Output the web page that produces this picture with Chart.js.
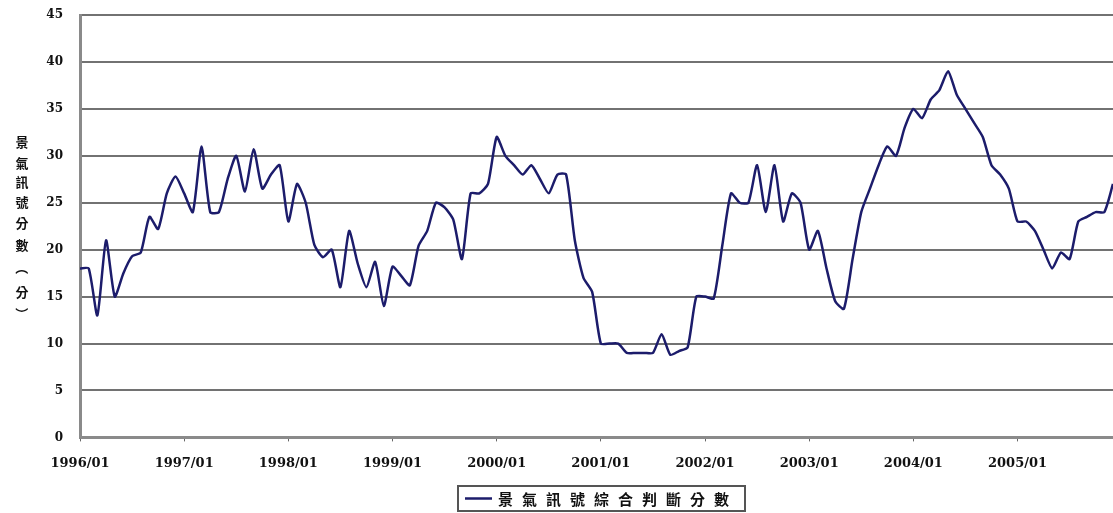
<!DOCTYPE html>
<html>
<head>
<meta charset="utf-8">
<script src="https://cdn.jsdelivr.net/npm/chart.js@4/dist/chart.umd.min.js"></script>
<style>
  html, body { margin: 0; padding: 0; background: #fff; }
  #wrap { width: 1113px; height: 513px; position: relative; }
</style>
</head>
<body>
<div id="wrap"><canvas id="chart"></canvas></div>
<script>
// data, monthly 1996/01 .. 2005/12
const years = [1996, 1997, 1998, 1999, 2000, 2001, 2002, 2003, 2004, 2005];
const monthNames = ['01', '02', '03', '04', '05', '06', '07', '08', '09', '10', '11', '12'];
const seriesName = '景氣訊號綜合判斷分數';
const yTitle = ['景', '氣', '訊', '號', '分', '數', '（', '分', '）'];
const yTicks = [0, 5, 10, 15, 20, 25, 30, 35, 40, 45];

const scores = [
  18, 18, 13, 21, 15, 17.5, 19.3, 19.7, 23.5, 22.2, 26, 27.8,   // 1996
  26, 24, 31, 24, 24, 27.5, 30, 26.2, 30.7, 26.5, 28, 29,        // 1997
  23, 27, 25, 20.5, 19.2, 20, 16, 22, 18.5, 16, 18.7, 14,        // 1998
  18.2, 17.2, 16.2, 20.4, 22, 25, 24.5, 23.2, 19, 26, 26, 27,    // 1999
  32, 30, 29, 28, 29, 27.5, 26, 28, 28, 21, 17, 15.5,            // 2000
  10, 10, 10, 9, 9, 9, 9, 11, 8.8, 9.2, 9.6, 15,                 // 2001
  15, 14.8, 20.5, 26, 25, 25, 29, 24, 29, 23, 26, 25,            // 2002
  20, 22, 18, 14.5, 13.7, 19, 24, 26.5, 29, 31, 30, 33,          // 2003
  35, 34, 36, 37, 39, 36.5, 35, 33.5, 32, 29, 28, 26.5,          // 2004
  23, 23, 22, 20, 18, 19.7, 19, 23, 23.5, 24, 24, 27             // 2005
];

const labels = [];
years.forEach(y => monthNames.forEach(m => labels.push(y + '/' + m)));

const gridColor = '#727272';
const axisColor = '#8a8a8a';
const lineColor = '#1c1c6b';

// upright stacked y title, bordered legend at the bottom
const decorations = {
  id: 'decorations',
  afterDraw(chart) {
    const ctx = chart.ctx;
    ctx.save();
    ctx.fillStyle = '#111';
    ctx.font = 'bold 13px "Noto Sans CJK TC"';
    ctx.textAlign = 'center';
    ctx.textBaseline = 'middle';
    const ys = [142, 163, 182, 202, 223, 245, 268, 292, 314];
    yTitle.forEach((c, i) => {
      if (c === '（' || c === '）') {
        // brackets turned for vertical writing
        ctx.save();
        ctx.translate(22, ys[i]);
        ctx.rotate(Math.PI / 2);
        ctx.fillText(c, 0, 0);
        ctx.restore();
      } else {
        ctx.fillText(c, 22, ys[i]);
      }
    });

    // legend box
    ctx.strokeStyle = '#555';
    ctx.lineWidth = 2;
    ctx.strokeRect(458, 486, 287, 25);
    ctx.strokeStyle = lineColor;
    ctx.lineWidth = 2.5;
    ctx.beginPath();
    ctx.moveTo(465, 498.5);
    ctx.lineTo(492, 498.5);
    ctx.stroke();
    ctx.fillStyle = '#111';
    ctx.font = 'bold 15px "Noto Sans CJK TC"';
    ctx.textAlign = 'left';
    ctx.letterSpacing = '9px';
    ctx.fillText(seriesName, 498, 499);
    ctx.restore();
  }
};

new Chart(document.getElementById('chart'), {
  type: 'line',
  data: {
    labels: labels,
    datasets: [{
      label: seriesName,
      data: scores,
      borderColor: lineColor,
      borderWidth: 2.5,
      pointRadius: 0,
      tension: 0.2,
      fill: false
    }]
  },
  options: {
    responsive: true,
    maintainAspectRatio: false,
    animation: false,
    layout: { padding: { top: 15, right: 0, bottom: 28, left: 0 } },
    plugins: {
      legend: { display: false },
      tooltip: { enabled: false }
    },
    scales: {
      x: {
        offset: false,
        border: { display: true, color: axisColor, width: 3 },
        grid: {
          drawOnChartArea: false,
          drawTicks: true,
          tickLength: 4,
          color: '#666'
        },
        ticks: {
          autoSkip: false,
          maxRotation: 0,
          minRotation: 0,
          padding: 14,
          color: '#111',
          font: { family: '"DejaVu Serif"', size: 13, weight: 'bold' },
          callback: function (value, index) {
            const lab = this.getLabelForValue(value);
            return lab.endsWith('/01') ? lab : null;
          }
        }
      },
      y: {
        min: 0,
        max: 45,
        afterBuildTicks: scale => { scale.ticks = yTicks.map(v => ({ value: v })); },
        afterFit: scale => {
          scale.width = 80;
          scale.paddingTop = 0;
          scale.paddingBottom = 0;
        },
        border: { display: true, color: axisColor, width: 3 },
        grid: { color: gridColor, lineWidth: 2, drawTicks: false },
        ticks: {
          padding: 17,
          color: '#111',
          font: { family: '"DejaVu Serif"', size: 12, weight: 'bold' }
        }
      }
    }
  },
  plugins: [decorations]
});
</script>
</body>
</html>
